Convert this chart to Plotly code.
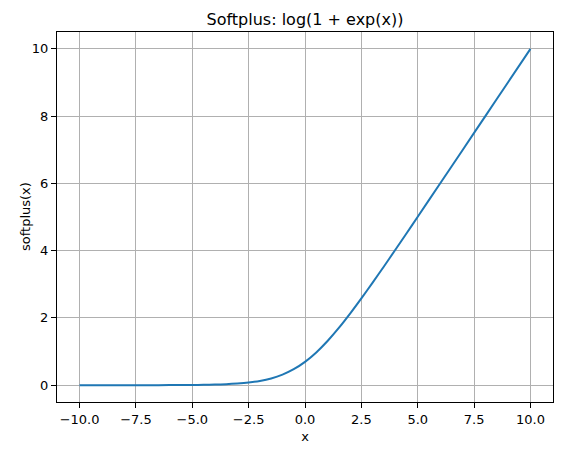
"""Softplus curve, matplotlib-like styling in Plotly."""

import plotly.graph_objects as go

# values
x_vals = [-10.0, -9.0, -8.0, -7.0, -6.0, -5.0, -4.5, -4.0, -3.5, -3.0, -2.5, -2.0,
          -1.5, -1.0, -0.5, 0.0, 0.5, 1.0, 1.5, 2.0, 2.5, 3.0, 3.5, 4.0, 4.5,
          5.0, 6.0, 7.0, 8.0, 9.0, 10.0]
y_vals = [0.0, 0.0, 0.0, 0.001, 0.002, 0.007, 0.011, 0.018, 0.03, 0.049, 0.079, 0.127,
          0.201, 0.313, 0.474, 0.693, 0.974, 1.313, 1.701, 2.127, 2.579, 3.049, 3.53, 4.018, 4.511,
          5.007, 6.002, 7.001, 8.0, 9.0, 10.0]

x_ticks = [-10.0, -7.5, -5.0, -2.5, 0.0, 2.5, 5.0, 7.5, 10.0]
y_ticks = [0, 2, 4, 6, 8, 10]

FONT = "DejaVu Sans"

fig = go.Figure()
fig.add_trace(
    go.Scatter(
        x=x_vals,
        y=y_vals,
        mode="lines",
        line=dict(color="#1f77b4", width=2, shape="spline", smoothing=0.6),
        showlegend=False,
    )
)

axis_style = dict(
    showline=True,
    linecolor="black",
    linewidth=1,
    mirror=True,
    ticks="outside",
    ticklen=5,
    tickwidth=1,
    tickcolor="black",
    showgrid=True,
    gridcolor="#b0b0b0",
    gridwidth=1,
    zeroline=False,
    automargin=False,
    tickfont=dict(family=FONT, size=13, color="black"),
)

fig.update_xaxes(
    range=[-11, 11],
    tickvals=x_ticks,
    tickformat=".1f",
    title=dict(text="x", font=dict(family=FONT, size=13, color="black"), standoff=6),
    **axis_style,
)
fig.update_yaxes(range=[-0.5, 10.5], tickvals=y_ticks, **axis_style)

# y title as an annotation: plotly's own title sits too far from the tick labels
fig.add_annotation(
    text="softplus(x)",
    xref="paper",
    yref="paper",
    x=-0.0645,
    y=0.5,
    xanchor="center",
    yanchor="middle",
    textangle=-90,
    showarrow=False,
    font=dict(family=FONT, size=13, color="black"),
)

fig.update_layout(
    width=562,
    height=455,
    margin=dict(l=57, r=9, t=32, b=53),
    paper_bgcolor="white",
    plot_bgcolor="white",
    font=dict(family=FONT, color="black"),
    title=dict(
        text="Softplus: log(1 + exp(x))",
        x=0.5,
        xref="paper",
        y=1 - 19 / 455,
        yref="container",
        xanchor="center",
        yanchor="middle",
        font=dict(family=FONT, size=16, color="black"),
    ),
)

# drop the browser's default page margin so the figure sits at 0,0
fig.write_html(
    "out.html",
    config={"displayModeBar": False},
    post_script="document.body.style.margin = '0';",
)
